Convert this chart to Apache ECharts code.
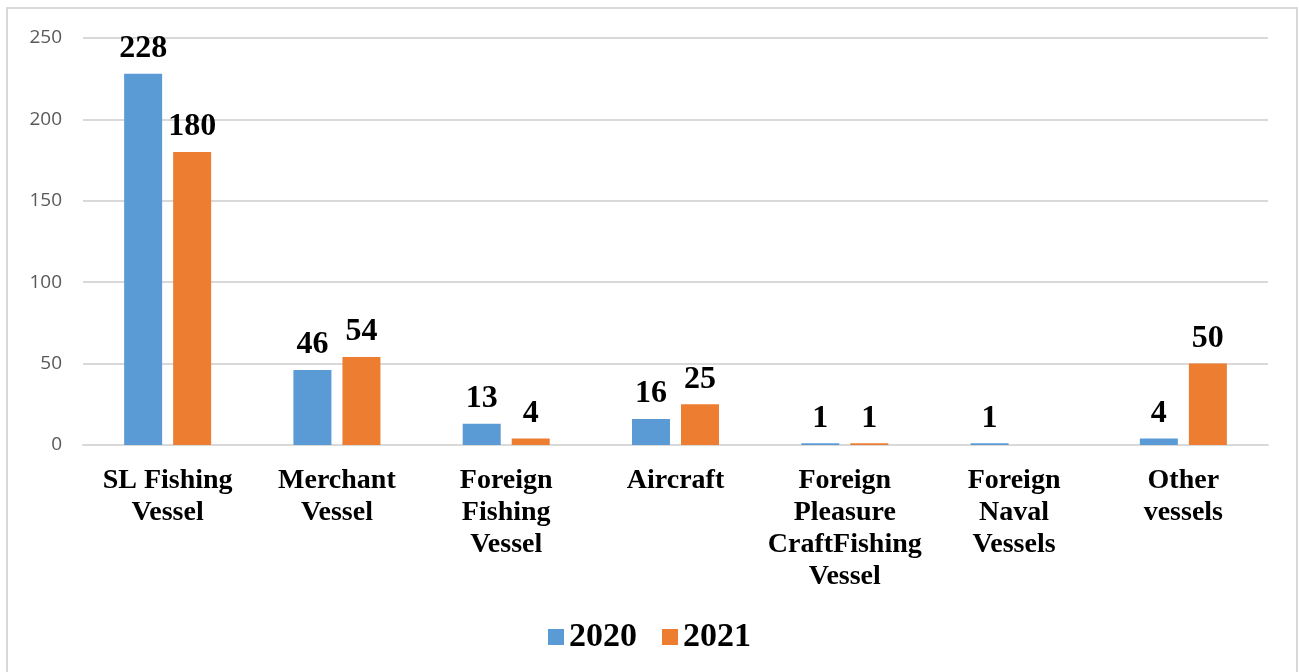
<!DOCTYPE html>
<html>
<head>
<meta charset="utf-8">
<script src="https://cdn.jsdelivr.net/npm/echarts@6/dist/echarts.min.js"></script>
<style>html,body{margin:0;padding:0;background:#fff;}#c{width:1299px;height:672px;}</style>
</head>
<body>
<div id="c"></div>
<script>
var categories = ['SL Fishing\nVessel', 'Merchant\nVessel', 'Foreign\nFishing\nVessel', 'Aircraft', 'Foreign\nPleasure\nCraftFishing\nVessel', 'Foreign\nNaval\nVessels', 'Other\nvessels'];
var values2020 = [228, 46, 13, 16, 1, 1, 4];
var values2021 = [180, 54, 4, 25, 1, null, 50];
var yTicks = { min: 0, max: 250, interval: 50 };

var serif = '"Liberation Serif", "DejaVu Serif", serif';
var chart = echarts.init(document.getElementById('c'), null, { renderer: 'canvas' });
var labelStyle = {
  show: true, position: 'top', distance: 9,
  fontFamily: serif, fontWeight: 'bold', fontSize: 32, color: '#000'
};
chart.setOption({
  animation: false,
  graphic: [{
    type: 'rect', shape: { x: 7, y: 8, width: 1290, height: 700 },
    style: { fill: 'none', stroke: '#d9d9d9', lineWidth: 2 }, silent: true
  }],
  grid: { left: 83, right: 31, top: 38, bottom: 227 },
  legend: {
    bottom: 13, left: 'center',
    itemWidth: 16, itemHeight: 16, itemGap: 25,
    icon: 'rect',
    textStyle: { fontFamily: serif, fontWeight: 'bold', fontSize: 34, color: '#000' },
    data: ['2020', '2021']
  },
  xAxis: {
    type: 'category', data: categories,
    axisLine: { lineStyle: { color: '#d9d9d9', width: 2 } },
    axisTick: { show: false },
    axisLabel: {
      interval: 0, margin: 20, lineHeight: 32,
      fontFamily: serif, fontWeight: 'bold', fontSize: 28, color: '#000'
    }
  },
  yAxis: {
    type: 'value', min: yTicks.min, max: yTicks.max, interval: yTicks.interval,
    axisLine: { show: false }, axisTick: { show: false },
    splitLine: { lineStyle: { color: '#d9d9d9', width: 2 } },
    axisLabel: { margin: 21, fontFamily: '"Open Sans", "Liberation Sans", sans-serif', fontSize: 19, color: '#595959' }
  },
  series: [
    { name: '2020', type: 'bar', data: values2020, barWidth: 38, barGap: '29%',
      itemStyle: { color: '#5B9BD5' }, label: labelStyle },
    { name: '2021', type: 'bar', data: values2021, barWidth: 38,
      itemStyle: { color: '#ED7D31' }, label: labelStyle }
  ]
});
</script>
</body>
</html>
